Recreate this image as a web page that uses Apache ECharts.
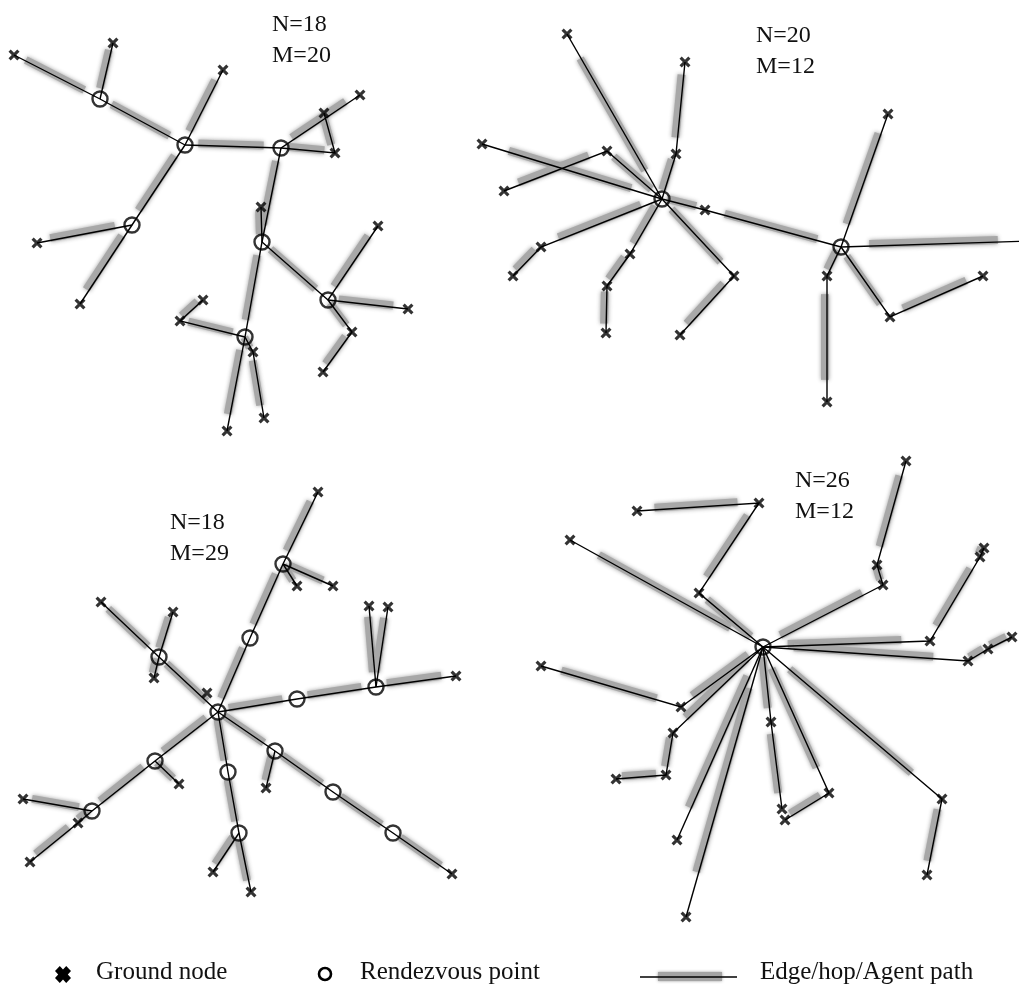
<!DOCTYPE html>
<html>
<head>
<meta charset="utf-8">
<script src="https://cdn.jsdelivr.net/npm/echarts@6/dist/echarts.min.js"></script>
<style>
html, body { margin: 0; padding: 0; background: #fff; }
#net { width: 1019px; height: 992px; }
</style>
</head>
<body>
<div id="net"></div>
<script>
// top-left network
var groundTL = [[14,55],[113,43],[223,70],[360,95],[324,113],[335,153],[261,207],[37,243],[378,226],[80,304],
  [408,309],[203,300],[180,321],[352,332],[253,352],[323,372],[264,418],[227,431]];
var rvTL = [[100,99],[185,145],[281,148],[132,225],[262,242],[328,300],[245,337]];
var pathsTL = [
  [[14,55],[100,99],[185,145]],
  [[113,43],[100,99]],
  [[223,70],[185,145]],
  [[185,145],[281,148],[360,95]],
  [[324,113],[335,153],[281,148]],
  [[185,145],[132,225],[37,243]],
  [[132,225],[80,304]],
  [[281,148],[262,242],[245,337],[227,431]],
  [[261,207],[262,242],[328,300],[378,226]],
  [[328,300],[408,309]],
  [[328,300],[352,332],[323,372]],
  [[245,337],[180,321],[203,300]],
  [[245,337],[253,352],[264,418]]
];

// top-right network
var groundTR = [[567,34],[685,62],[888,114],[482,144],[607,151],[676,154],[504,191],[705,210],[541,247],[630,254],
  [513,276],[734,276],[827,276],[983,276],[607,286],[890,317],[606,333],[680,335],[827,402]];
var rvTR = [[662,199],[841,247]];
var pathsTR = [
  [[662,199],[567,34]],
  [[662,199],[676,154],[685,62]],
  [[662,199],[482,144]],
  [[662,199],[607,151],[504,191]],
  [[662,199],[541,247],[513,276]],
  [[662,199],[630,254],[607,286],[606,333]],
  [[662,199],[734,276],[680,335]],
  [[662,199],[705,210],[841,247]],
  [[841,247],[888,114]],
  [[841,247],[1030,241]],
  [[841,247],[827,276],[827,402]],
  [[841,247],[890,317],[983,276]]
];

// bottom-left network
var groundBL = [[318,492],[297,586],[333,586],[101,602],[173,612],[369,606],[388,607],[154,678],[207,693],[456,676],
  [179,784],[266,788],[23,799],[78,823],[30,862],[213,872],[251,892],[452,874]];
var rvBL = [[283,564],[250,638],[159,657],[218,712],[297,699],[376,687],[155,761],[275,751],[228,772],[92,811],
  [333,792],[239,833],[393,833]];
var pathsBL = [
  [[218,712],[250,638],[283,564],[318,492]],
  [[283,564],[297,586]],
  [[283,564],[333,586]],
  [[218,712],[159,657],[101,602]],
  [[159,657],[173,612]],
  [[159,657],[154,678]],
  [[218,712],[297,699],[376,687],[456,676]],
  [[376,687],[369,606]],
  [[376,687],[388,607]],
  [[218,712],[275,751],[333,792],[393,833],[452,874]],
  [[275,751],[266,788]],
  [[218,712],[228,772],[239,833],[251,892]],
  [[239,833],[213,872]],
  [[218,712],[155,761],[92,811],[78,823],[30,862]],
  [[155,761],[179,784]],
  [[92,811],[23,799]]
];

// bottom-right network
var groundBR = [[906,461],[637,511],[759,503],[570,540],[877,565],[883,585],[984,548],[980,557],[699,593],[930,641],
  [1012,637],[988,649],[968,661],[541,666],[681,707],[771,722],[673,733],[666,775],[616,779],[829,793],
  [942,799],[782,809],[785,820],[677,840],[927,875],[686,917]];
var rvBR = [[763,647]];
var pathsBR = [
  [[763,647],[699,593],[759,503],[637,511]],
  [[763,647],[570,540]],
  [[763,647],[883,585],[877,565],[906,461]],
  [[763,647],[930,641],[980,557],[984,548]],
  [[763,647],[968,661],[988,649],[1012,637]],
  [[763,647],[942,799],[927,875]],
  [[763,647],[829,793],[785,820]],
  [[763,647],[771,722],[782,809]],
  [[763,647],[686,917]],
  [[763,647],[677,840]],
  [[763,647],[673,733],[666,775],[616,779]],
  [[763,647],[681,707],[541,666]]
];

var notes = ['N=18\nM=20', 'N=20\nM=12', 'N=18\nM=29', 'N=26\nM=12'];
var legendNames = ['Ground node', 'Rendezvous point', 'Edge/hop/Agent path'];

var myChart = echarts.init(document.getElementById('net'));

var allPaths = pathsTL.concat(pathsTR, pathsBL, pathsBR);
var ground = groundTL.concat(groundTR, groundBL, groundBR);
var rv = rvTL.concat(rvTR, rvBL, rvBR);

// gray agent path bars: middle part of each hop, drawn a little up-left like a shadow
var bars = [];
var t0 = 0.16, t1 = 0.84, sx = -2, sy = -2;
allPaths.forEach(function (p) {
  for (var i = 0; i < p.length - 1; i++) {
    var a = p[i], b = p[i + 1];
    bars.push({coords: [
      [a[0] + (b[0] - a[0]) * t0 + sx, a[1] + (b[1] - a[1]) * t0 + sy],
      [a[0] + (b[0] - a[0]) * t1 + sx, a[1] + (b[1] - a[1]) * t1 + sy]
    ]});
  }
});

var crossPath = 'path://M2,0 L5,3 L8,0 L10,2 L7,5 L10,8 L8,10 L5,7 L2,10 L0,8 L3,5 L0,2 Z';
var serif = '"Liberation Serif", "DejaVu Serif", serif';

// legend cross drawn as a polygon
var crossPts = [[3,0],[5,2],[7,0],[10,3],[8,5],[10,7],[7,10],[5,8],[3,10],[0,7],[2,5],[0,3]].map(function (q) {
  return [55 + q[0] * 1.6, 966 + q[1] * 1.7];
});

var notePos = [[272, 9], [756, 20], [170, 507], [795, 465]];
var graphics = notes.map(function (n, i) {
  return {
    type: 'text', x: notePos[i][0], y: notePos[i][1], z: 10,
    style: {text: n, font: '24px ' + serif, lineHeight: 31, fill: '#111'}
  };
});
graphics.push(
  {type: 'polygon', z: 10, shape: {points: crossPts}, style: {fill: '#000'}},
  {type: 'text', x: 96, y: 960, z: 10, style: {text: legendNames[0], font: '25px ' + serif, fill: '#111'}},
  {type: 'circle', z: 10, shape: {cx: 325, cy: 974, r: 6}, style: {fill: 'none', stroke: '#000', lineWidth: 2.6}},
  {type: 'text', x: 360, y: 960, z: 10, style: {text: legendNames[1], font: '25px ' + serif, fill: '#111'}},
  {type: 'rect', z: 9, shape: {x: 658, y: 972, width: 64, height: 9},
    style: {fill: '#a4a4a4', shadowBlur: 3, shadowColor: 'rgba(140,140,140,0.9)'}},
  {type: 'line', z: 10, shape: {x1: 640, y1: 977, x2: 737, y2: 977}, style: {stroke: '#000', lineWidth: 1.5}},
  {type: 'text', x: 760, y: 960, z: 10, style: {text: legendNames[2], font: '25px ' + serif, fill: '#111'}}
);

var option = {
  backgroundColor: '#fff',
  animation: false,
  grid: {left: 0, right: 0, top: 0, bottom: 0},
  xAxis: {type: 'value', min: 0, max: 1019, show: false},
  yAxis: {type: 'value', min: 0, max: 992, inverse: true, show: false},
  graphic: {elements: graphics},
  series: [
    {
      name: legendNames[2] + ' bar',
      type: 'lines',
      coordinateSystem: 'cartesian2d',
      z: 1,
      silent: true,
      lineStyle: {color: '#a8a8a8', width: 8, opacity: 1, cap: 'butt',
        shadowBlur: 4, shadowColor: 'rgba(150,150,150,0.9)'},
      data: bars
    },
    {
      name: legendNames[2],
      type: 'lines',
      coordinateSystem: 'cartesian2d',
      polyline: true,
      z: 2,
      silent: true,
      lineStyle: {color: '#000', width: 1.4, opacity: 1},
      data: allPaths.map(function (p) { return {coords: p}; })
    },
    {
      name: legendNames[1],
      type: 'scatter',
      z: 3,
      silent: true,
      symbol: 'circle',
      symbolSize: 15,
      itemStyle: {color: 'rgba(0,0,0,0)', borderColor: '#000', borderWidth: 2.4},
      data: rv
    },
    {
      name: legendNames[0],
      type: 'scatter',
      z: 4,
      silent: true,
      symbol: crossPath,
      symbolSize: 11,
      itemStyle: {color: '#000'},
      data: ground
    }
  ]
};
myChart.setOption(option);
</script>
</body>
</html>
